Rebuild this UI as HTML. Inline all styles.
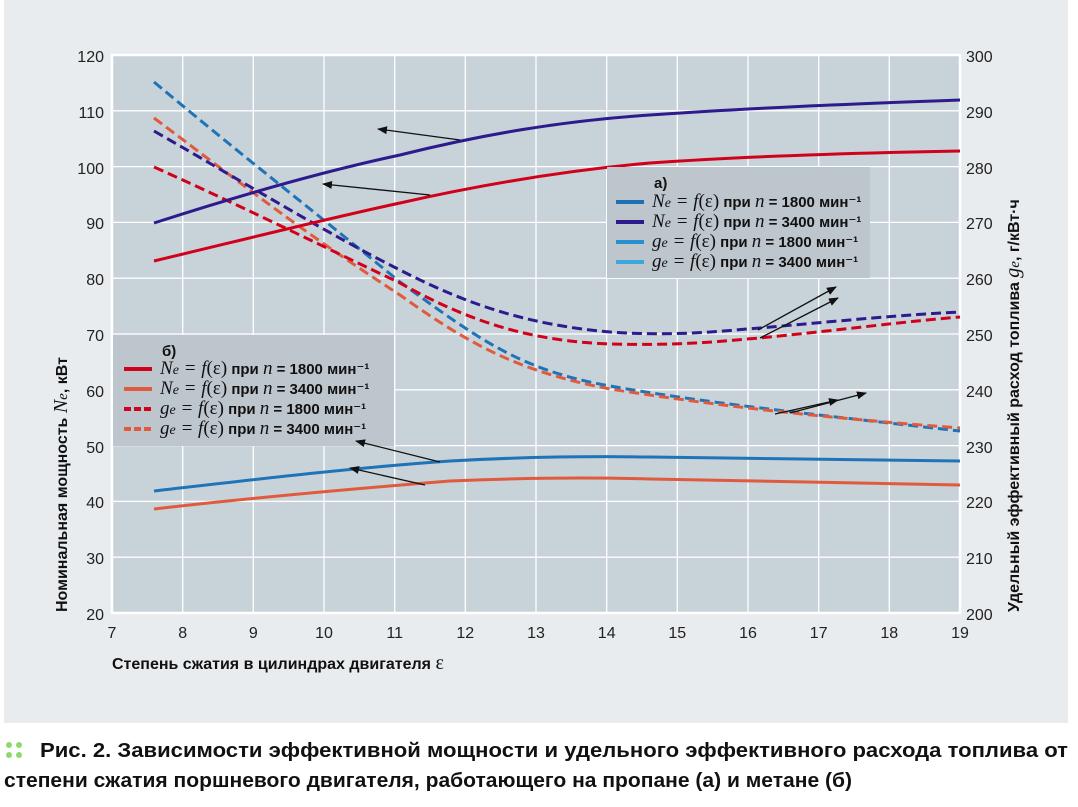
<!DOCTYPE html>
<html><head><meta charset="utf-8"><style>
body{margin:0;background:#fff;width:1078px;height:802px;overflow:hidden;font-family:"Liberation Sans","DejaVu Sans",sans-serif}
</style></head><body>
<svg width="1078" height="802" viewBox="0 0 1078 802" xmlns="http://www.w3.org/2000/svg">
<defs><marker id="ar" markerWidth="10" markerHeight="8" refX="9" refY="4" orient="auto" markerUnits="userSpaceOnUse"><path d="M0,0 L10,4 L0,8 z" fill="#111"/></marker></defs>
<rect x="4" y="0" width="1064" height="723" fill="#e8ecef"/>
<rect x="112" y="55" width="848" height="558" fill="#c8d2d9"/>
<g stroke="#fff" stroke-width="1.3">
<line x1="182.7" y1="55" x2="182.7" y2="613"/><line x1="253.3" y1="55" x2="253.3" y2="613"/><line x1="324" y1="55" x2="324" y2="613"/><line x1="394.7" y1="55" x2="394.7" y2="613"/><line x1="465.3" y1="55" x2="465.3" y2="613"/><line x1="536" y1="55" x2="536" y2="613"/><line x1="606.7" y1="55" x2="606.7" y2="613"/><line x1="677.3" y1="55" x2="677.3" y2="613"/><line x1="748" y1="55" x2="748" y2="613"/><line x1="818.7" y1="55" x2="818.7" y2="613"/><line x1="889.3" y1="55" x2="889.3" y2="613"/>
<line x1="112" y1="110.8" x2="960" y2="110.8"/><line x1="112" y1="166.6" x2="960" y2="166.6"/><line x1="112" y1="222.4" x2="960" y2="222.4"/><line x1="112" y1="278.2" x2="960" y2="278.2"/><line x1="112" y1="334" x2="960" y2="334"/><line x1="112" y1="389.8" x2="960" y2="389.8"/><line x1="112" y1="445.6" x2="960" y2="445.6"/><line x1="112" y1="501.4" x2="960" y2="501.4"/><line x1="112" y1="557.2" x2="960" y2="557.2"/>
</g>
<path d="M112,613 V55 H960 V613 Z" fill="none" stroke="#fff" stroke-width="2.5"/>
<g font-size="16" fill="#222" text-anchor="end">
<text x="104" y="62">120</text><text x="104" y="118">110</text><text x="104" y="174">100</text><text x="104" y="229">90</text><text x="104" y="285">80</text><text x="104" y="341">70</text><text x="104" y="397">60</text><text x="104" y="453">50</text><text x="104" y="508">40</text><text x="104" y="564">30</text><text x="104" y="620">20</text>
</g>
<g font-size="16" fill="#222" text-anchor="start">
<text x="966" y="62">300</text><text x="966" y="118">290</text><text x="966" y="174">280</text><text x="966" y="229">270</text><text x="966" y="285">260</text><text x="966" y="341">250</text><text x="966" y="397">240</text><text x="966" y="453">230</text><text x="966" y="508">220</text><text x="966" y="564">210</text><text x="966" y="620">200</text>
</g>
<g font-size="16" fill="#222" text-anchor="middle">
<text x="112" y="638">7</text><text x="182.7" y="638">8</text><text x="253.3" y="638">9</text><text x="324" y="638">10</text><text x="394.7" y="638">11</text><text x="465.3" y="638">12</text><text x="536" y="638">13</text><text x="606.7" y="638">14</text><text x="677.3" y="638">15</text><text x="748" y="638">16</text><text x="818.7" y="638">17</text><text x="889.3" y="638">18</text><text x="960" y="638">19</text>
</g>
<text x="112" y="669" font-size="16" font-weight="bold" fill="#111">Степень сжатия в цилиндрах двигателя <tspan font-family="Liberation Serif,serif" font-weight="normal" font-size="20">ε</tspan></text>
<text transform="translate(67,612) rotate(-90)" font-size="16" font-weight="bold" fill="#111">Номинальная мощность <tspan font-family="Liberation Serif,serif" font-style="italic" font-weight="normal" font-size="20">N<tspan font-size="15">e</tspan></tspan>, кВт</text>
<text transform="translate(1019,612) rotate(-90)" font-size="16" font-weight="bold" fill="#111">Удельный эффективный расход топлива <tspan font-family="Liberation Serif,serif" font-style="italic" font-weight="normal" font-size="20">g<tspan font-size="15">e</tspan></tspan>, г/кВт·ч</text>

<g fill="none" stroke-width="3" stroke-linecap="butt">
<path d="M154,82 C250,162 300,200 400,282 C480,340 520,370 610,386 C700,402 800,413 960,431" stroke="#1f74b8" stroke-dasharray="10,5"/>
<path d="M154,118 C250,190 300,230 400,295 C470,345 520,372 610,389 C700,403 800,416 960,428" stroke="#e05a3e" stroke-dasharray="10,5"/>
<path d="M154,131 C250,186 330,235 400,270 C470,306 530,325 610,332 C680,337 730,330 760,328 C850,320 900,315 960,312" stroke="#2d1a8c" stroke-dasharray="10,5"/>
<path d="M154,167 C250,210 330,250 400,283 C470,322 530,341 610,344 C690,346 730,340 760,338 C850,329 900,322 960,317" stroke="#d0021b" stroke-dasharray="10,5"/>
<path d="M154,223 C250,192 330,170 400,155 C480,135 560,121 650,115 C750,108 850,104 960,100" stroke="#2d1a8c"/>
<path d="M154,261 C250,238 330,218 400,203 C480,185 560,171 650,163 C750,156 850,153 960,151" stroke="#d0021b"/>
<path d="M154,491 C250,480 350,468 450,461 C520,457 580,456 650,457 C750,458 850,460 960,461" stroke="#1f74b8"/>
<path d="M154,509 C250,498 350,489 450,481 C520,478 580,477 650,479 C750,481 850,483 960,485" stroke="#e05a3e"/>
</g>
<rect x="607" y="167" width="263" height="111" fill="#bec6cd"/>
<rect x="113" y="335" width="281" height="111" fill="#bec6cd"/>
<g stroke="#111" stroke-width="1.3" marker-end="url(#ar)">
<line x1="460" y1="140" x2="378" y2="129"/>
<line x1="430" y1="195" x2="323" y2="184"/>
<line x1="440" y1="462" x2="356" y2="441"/>
<line x1="425" y1="485" x2="350" y2="468"/>
<line x1="758" y1="330" x2="836" y2="287"/>
<line x1="760" y1="338" x2="838" y2="298"/>
<line x1="775" y1="414" x2="838" y2="400"/>
<line x1="790" y1="413" x2="866" y2="393"/>
</g>
<g font-size="15" font-weight="bold" fill="#111">
<text x="654" y="188">а)</text>
<line x1="616" y1="202" x2="644" y2="202" stroke="#1f6fb5" stroke-width="4"/>
<line x1="616" y1="222" x2="644" y2="222" stroke="#2d1a8c" stroke-width="4"/>
<line x1="616" y1="242" x2="644" y2="242" stroke="#2591cf" stroke-width="4"/>
<line x1="616" y1="262" x2="644" y2="262" stroke="#3aa8da" stroke-width="4"/>
<text x="652" y="207"><tspan font-family="Liberation Serif,serif" font-style="italic" font-weight="normal" font-size="19">N<tspan font-size="14">e</tspan> = f</tspan><tspan font-family="Liberation Serif,serif" font-weight="normal" font-size="19">(ε)</tspan> при <tspan font-family="Liberation Serif,serif" font-style="italic" font-weight="normal" font-size="19">n</tspan> = 1800 мин⁻¹</text>
<text x="652" y="227"><tspan font-family="Liberation Serif,serif" font-style="italic" font-weight="normal" font-size="19">N<tspan font-size="14">e</tspan> = f</tspan><tspan font-family="Liberation Serif,serif" font-weight="normal" font-size="19">(ε)</tspan> при <tspan font-family="Liberation Serif,serif" font-style="italic" font-weight="normal" font-size="19">n</tspan> = 3400 мин⁻¹</text>
<text x="652" y="247"><tspan font-family="Liberation Serif,serif" font-style="italic" font-weight="normal" font-size="19">g<tspan font-size="14">e</tspan> = f</tspan><tspan font-family="Liberation Serif,serif" font-weight="normal" font-size="19">(ε)</tspan> при <tspan font-family="Liberation Serif,serif" font-style="italic" font-weight="normal" font-size="19">n</tspan> = 1800 мин⁻¹</text>
<text x="652" y="267"><tspan font-family="Liberation Serif,serif" font-style="italic" font-weight="normal" font-size="19">g<tspan font-size="14">e</tspan> = f</tspan><tspan font-family="Liberation Serif,serif" font-weight="normal" font-size="19">(ε)</tspan> при <tspan font-family="Liberation Serif,serif" font-style="italic" font-weight="normal" font-size="19">n</tspan> = 3400 мин⁻¹</text>

<text x="162" y="356">б)</text>
<line x1="124" y1="369" x2="152" y2="369" stroke="#d0021b" stroke-width="4"/>
<line x1="124" y1="389" x2="152" y2="389" stroke="#e05a3e" stroke-width="4"/>
<line x1="124" y1="409" x2="152" y2="409" stroke="#d0021b" stroke-width="4" stroke-dasharray="7,3"/>
<line x1="124" y1="429" x2="152" y2="429" stroke="#e05a3e" stroke-width="4" stroke-dasharray="7,3"/>
<text x="160" y="374"><tspan font-family="Liberation Serif,serif" font-style="italic" font-weight="normal" font-size="19">N<tspan font-size="14">e</tspan> = f</tspan><tspan font-family="Liberation Serif,serif" font-weight="normal" font-size="19">(ε)</tspan> при <tspan font-family="Liberation Serif,serif" font-style="italic" font-weight="normal" font-size="19">n</tspan> = 1800 мин⁻¹</text>
<text x="160" y="394"><tspan font-family="Liberation Serif,serif" font-style="italic" font-weight="normal" font-size="19">N<tspan font-size="14">e</tspan> = f</tspan><tspan font-family="Liberation Serif,serif" font-weight="normal" font-size="19">(ε)</tspan> при <tspan font-family="Liberation Serif,serif" font-style="italic" font-weight="normal" font-size="19">n</tspan> = 3400 мин⁻¹</text>
<text x="160" y="414"><tspan font-family="Liberation Serif,serif" font-style="italic" font-weight="normal" font-size="19">g<tspan font-size="14">e</tspan> = f</tspan><tspan font-family="Liberation Serif,serif" font-weight="normal" font-size="19">(ε)</tspan> при <tspan font-family="Liberation Serif,serif" font-style="italic" font-weight="normal" font-size="19">n</tspan> = 1800 мин⁻¹</text>
<text x="160" y="434"><tspan font-family="Liberation Serif,serif" font-style="italic" font-weight="normal" font-size="19">g<tspan font-size="14">e</tspan> = f</tspan><tspan font-family="Liberation Serif,serif" font-weight="normal" font-size="19">(ε)</tspan> при <tspan font-family="Liberation Serif,serif" font-style="italic" font-weight="normal" font-size="19">n</tspan> = 3400 мин⁻¹</text>
</g>
<g fill="#8fd96a"><circle cx="9" cy="745" r="3"/><circle cx="19" cy="745" r="3"/><circle cx="9" cy="755" r="3"/><circle cx="19" cy="755" r="3"/></g>
<text x="40" y="757" font-size="20" font-weight="bold" fill="#111" textLength="1028" lengthAdjust="spacingAndGlyphs">Рис. 2. Зависимости эффективной мощности и удельного эффективного расхода топлива от</text>
<text x="4" y="787" font-size="20" font-weight="bold" fill="#111" textLength="848" lengthAdjust="spacingAndGlyphs">степени сжатия поршневого двигателя, работающего на пропане (а) и метане (б)</text>
</svg>
</body></html>
